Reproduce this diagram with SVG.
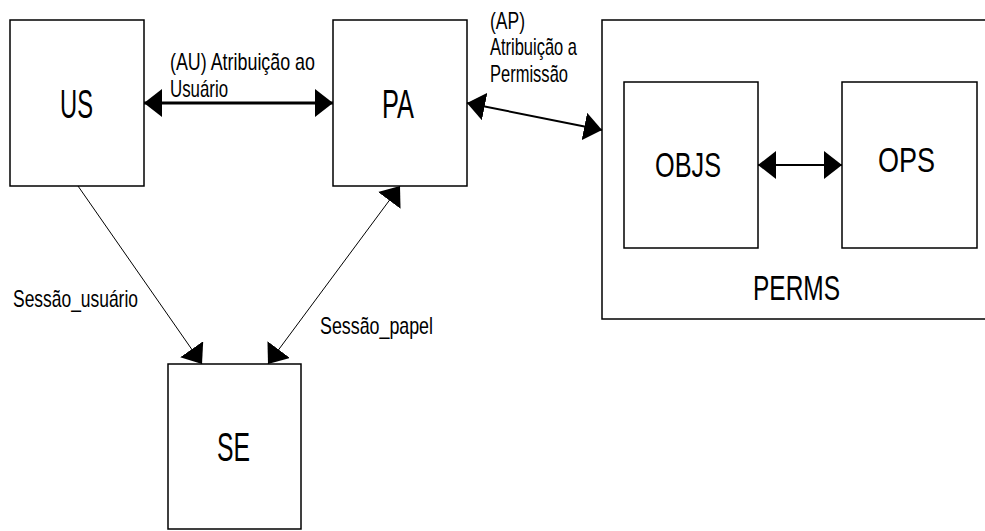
<svg xmlns="http://www.w3.org/2000/svg" width="985" height="531" viewBox="0 0 985 531">
  <style>
    .box { fill: #ffffff; stroke: #000000; stroke-width: 1.5; }
    .big { font-family: "Liberation Sans", Arial, sans-serif; font-size: 41px; fill: #000000; }
    .mid { font-family: "Liberation Sans", Arial, sans-serif; font-size: 35px; fill: #000000; }
    .lbl { font-family: "Liberation Sans", Arial, sans-serif; font-size: 24px; fill: #000000; }
    .edge { fill: none; stroke: #000000; }
  </style>
  <defs>
    <marker id="head" viewBox="0 0 18 28" refX="18" refY="14" markerWidth="18" markerHeight="28" markerUnits="userSpaceOnUse" orient="auto-start-reverse">
      <path d="M0,0 L18,14 L0,28 Z" fill="#000000"/>
    </marker>
  </defs>
  <rect width="985" height="531" fill="#ffffff"/>

  <g id="perms">
    <rect class="box" x="602" y="20" width="420" height="299"/>
    <text class="mid" x="796.5" y="300" text-anchor="middle" textLength="87" lengthAdjust="spacingAndGlyphs">PERMS</text>
  </g>
  <g id="us">
    <rect class="box" x="10" y="20" width="134" height="166"/>
    <text class="big" x="76.5" y="118" text-anchor="middle" textLength="33" lengthAdjust="spacingAndGlyphs">US</text>
  </g>
  <g id="pa">
    <rect class="box" x="333" y="20" width="134" height="166"/>
    <text class="big" x="398" y="118" text-anchor="middle" textLength="32" lengthAdjust="spacingAndGlyphs">PA</text>
  </g>
  <g id="se">
    <rect class="box" x="168" y="364" width="133" height="165"/>
    <text class="big" x="233.5" y="461" text-anchor="middle" textLength="33" lengthAdjust="spacingAndGlyphs">SE</text>
  </g>
  <g id="objs">
    <rect class="box" x="624" y="82" width="134" height="166"/>
    <text class="mid" x="688" y="177" text-anchor="middle" textLength="66" lengthAdjust="spacingAndGlyphs">OBJS</text>
  </g>
  <g id="ops">
    <rect class="box" x="842" y="82" width="135" height="166"/>
    <text class="mid" x="906.5" y="172" text-anchor="middle" textLength="57" lengthAdjust="spacingAndGlyphs">OPS</text>
  </g>

  <g id="connectors">
    <g id="au">
      <line class="edge" x1="144" y1="103" x2="333" y2="103" stroke-width="3" marker-start="url(#head)" marker-end="url(#head)"/>
      <text class="lbl" x="170" y="70" textLength="145" lengthAdjust="spacingAndGlyphs">(AU) Atribuição ao</text>
      <text class="lbl" x="170" y="97" textLength="58" lengthAdjust="spacingAndGlyphs">Usuário</text>
    </g>
    <g id="ap">
      <line class="edge" x1="467" y1="103" x2="602" y2="130" stroke-width="2" marker-start="url(#head)" marker-end="url(#head)"/>
      <text class="lbl" x="490" y="29" textLength="35" lengthAdjust="spacingAndGlyphs">(AP)</text>
      <text class="lbl" x="490" y="55" textLength="87" lengthAdjust="spacingAndGlyphs">Atribuição a</text>
      <text class="lbl" x="490" y="82" textLength="78" lengthAdjust="spacingAndGlyphs">Permissão</text>
    </g>
    <g id="objs-ops">
      <line class="edge" x1="758" y1="165" x2="842" y2="165" stroke-width="1.8" marker-start="url(#head)" marker-end="url(#head)"/>
    </g>
    <g id="sessao-usuario">
      <line class="edge" x1="78" y1="186" x2="202" y2="364" stroke-width="1" marker-end="url(#head)"/>
      <text class="lbl" x="13" y="307" textLength="125" lengthAdjust="spacingAndGlyphs">Sessão_usuário</text>
    </g>
    <g id="sessao-papel">
      <line class="edge" x1="268" y1="364" x2="400" y2="186" stroke-width="1" marker-start="url(#head)" marker-end="url(#head)"/>
      <text class="lbl" x="320" y="334" textLength="113" lengthAdjust="spacingAndGlyphs">Sessão_papel</text>
    </g>
  </g>
</svg>
